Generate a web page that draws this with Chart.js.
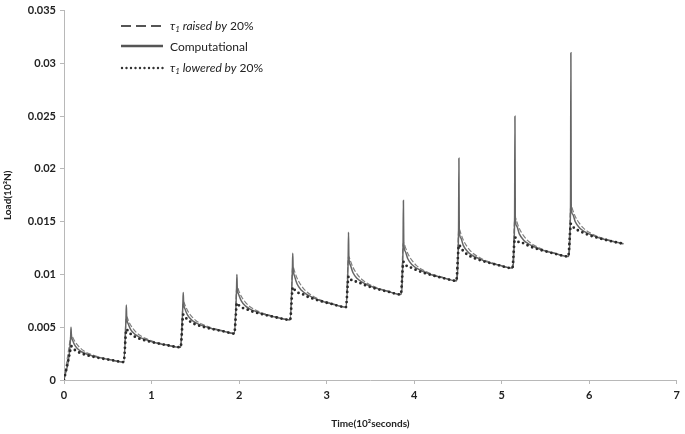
<!DOCTYPE html>
<html>
<head>
<meta charset="utf-8">
<script src="https://cdn.jsdelivr.net/npm/chart.js@4.4.1/dist/chart.umd.min.js"></script>
<style>
    html, body { margin: 0; padding: 0; background: #fff; }
    #wrap { position: relative; width: 685px; height: 434px; }
    #legend {
        position: absolute; left: 120px; top: 16px;
        font-family: Lato, "Open Sans", sans-serif; font-size: 12px; color: #222;
    }
    .row { display: flex; align-items: center; height: 20px; }
    .row svg { width: 44px; height: 8px; margin-right: 6px; }
    sub { font-size: 8px; vertical-align: -2px; }
</style>
</head>
<body>
<div id="wrap">
    <canvas id="loadChart" width="685" height="434"></canvas>
    <div id="legend">
        <div class="row"><svg><line x1="1" y1="4" x2="43" y2="4" stroke="#555" stroke-width="2" stroke-dasharray="10,5"/></svg><span><i>τ<sub>1</sub> raised by</i> 20%</span></div>
        <div class="row"><svg><line x1="1" y1="4" x2="43" y2="4" stroke="#555" stroke-width="2.5"/></svg><span>Computational</span></div>
        <div class="row" style="margin-top:2px"><svg><line x1="2" y1="4" x2="43" y2="4" stroke="#333" stroke-width="2.4" stroke-linecap="round" stroke-dasharray="0,4.5"/></svg><span><i>τ<sub>1</sub> lowered by</i> 20%</span></div>
    </div>
</div>
<script>
/* ==========================================================
   Load vs time, ten loading cycles
   Computational curve and tau1 raised / lowered by 20%
========================================================== */

const timeValues = [
    0, 0.076, 0.08, 0.084, 0.10, 0.13, 0.18, 0.23, 0.30, 0.40, 0.53,
    0.682, 0.708, 0.712, 0.716, 0.732, 0.762, 0.812, 0.862, 0.932, 1.032, 1.162,
    1.332, 1.358, 1.362, 1.366, 1.382, 1.412, 1.462, 1.512, 1.582, 1.682, 1.812,
    1.945, 1.971, 1.975, 1.979, 1.995, 2.025, 2.075, 2.125, 2.195, 2.295, 2.425,
    2.583, 2.609, 2.613, 2.617, 2.633, 2.663, 2.713, 2.763, 2.833, 2.933, 3.063,
    3.22, 3.246, 3.25, 3.254, 3.27, 3.30, 3.35, 3.40, 3.47, 3.57, 3.70,
    3.847, 3.873, 3.877, 3.881, 3.897, 3.927, 3.977, 4.027, 4.097, 4.197, 4.327,
    4.481, 4.507, 4.511, 4.515, 4.531, 4.561, 4.611, 4.661, 4.731, 4.831, 4.961,
    5.121, 5.147, 5.151, 5.155, 5.171, 5.201, 5.251, 5.301, 5.371, 5.471, 5.601,
    5.76, 5.786, 5.79, 5.794, 5.81, 5.84, 5.89, 5.94, 6.01, 6.11, 6.24,
    6.39
];

const computational = [
    0, 0.0041, 0.0050, 0.0043, 0.00373, 0.00321, 0.00279, 0.00256, 0.00235, 0.00212, 0.00191,
    0.0017, 0.0058, 0.0071, 0.0060, 0.00536, 0.00478, 0.00432, 0.00406, 0.00383, 0.00356, 0.00333,
    0.0031, 0.0072, 0.0083, 0.0074, 0.00674, 0.00614, 0.00566, 0.00539, 0.00515, 0.00488, 0.00464,
    0.0044, 0.0086, 0.0100, 0.0088, 0.00812, 0.0075, 0.0070, 0.00672, 0.00648, 0.0062, 0.00595,
    0.0057, 0.0105, 0.0120, 0.0107, 0.00986, 0.0091, 0.0085, 0.00815, 0.00785, 0.00751, 0.0072,
    0.0069, 0.0115, 0.0140, 0.0117, 0.01091, 0.01019, 0.00961, 0.00929, 0.0090, 0.00868, 0.00839,
    0.0081, 0.0128, 0.0170, 0.0130, 0.01221, 0.01149, 0.01091, 0.01059, 0.0103, 0.00998, 0.00969,
    0.0094, 0.0141, 0.0210, 0.0143, 0.01349, 0.01275, 0.01215, 0.01182, 0.01153, 0.01119, 0.0109,
    0.0106, 0.0152, 0.0250, 0.0154, 0.01459, 0.01385, 0.01325, 0.01292, 0.01263, 0.01229, 0.0120,
    0.0117, 0.0163, 0.0310, 0.0165, 0.01571, 0.01499, 0.01441, 0.01409, 0.0138, 0.01348, 0.01319,
    0.0129
];

const tauRaised = [
    0, 0.0041, 0.0043, 0.0043, 0.00404, 0.00357, 0.00308, 0.00274, 0.00245, 0.00217, 0.00193,
    0.0017, 0.0058, 0.0060, 0.0060, 0.00571, 0.00519, 0.00464, 0.00426, 0.00394, 0.00362, 0.00336,
    0.0031, 0.0072, 0.0074, 0.0074, 0.0071, 0.00656, 0.00599, 0.0056, 0.00527, 0.00494, 0.00467,
    0.0044, 0.0086, 0.0088, 0.0088, 0.00849, 0.00793, 0.00734, 0.00694, 0.0066, 0.00626, 0.00598,
    0.0057, 0.0105, 0.0107, 0.0107, 0.01032, 0.00964, 0.00891, 0.00842, 0.0080, 0.00758, 0.00724,
    0.0069, 0.0115, 0.0117, 0.0117, 0.01134, 0.01069, 0.01001, 0.00954, 0.00914, 0.00875, 0.00842,
    0.0081, 0.0128, 0.0130, 0.0130, 0.01264, 0.01199, 0.01131, 0.01084, 0.01044, 0.01005, 0.00972,
    0.0094, 0.0141, 0.0143, 0.0143, 0.01393, 0.01326, 0.01256, 0.01208, 0.01167, 0.01127, 0.01093,
    0.0106, 0.0152, 0.0154, 0.0154, 0.01503, 0.01436, 0.01366, 0.01318, 0.01277, 0.01237, 0.01203,
    0.0117, 0.0163, 0.0165, 0.0165, 0.01614, 0.01549, 0.01481, 0.01434, 0.01394, 0.01355, 0.01322,
    0.0129
];

const tauLowered = [
    0, 0.0030, 0.0032, 0.0032, 0.00302, 0.00281, 0.00258, 0.00243, 0.00227, 0.00209, 0.0019,
    0.0017, 0.0046, 0.0048, 0.0048, 0.0046, 0.00436, 0.00409, 0.00391, 0.00374, 0.00354, 0.00332,
    0.0031, 0.0060, 0.0062, 0.0062, 0.00598, 0.00573, 0.00542, 0.00524, 0.00506, 0.00485, 0.00463,
    0.0044, 0.0071, 0.0073, 0.0073, 0.00711, 0.00688, 0.00675, 0.00657, 0.00638, 0.00617, 0.00593,
    0.0057, 0.0086, 0.0088, 0.0088, 0.00857, 0.00831, 0.00819, 0.00796, 0.00774, 0.00747, 0.00719,
    0.0069, 0.0096, 0.0098, 0.0098, 0.0096, 0.00936, 0.00932, 0.00911, 0.00889, 0.00864, 0.00837,
    0.0081, 0.0110, 0.0112, 0.0112, 0.01098, 0.01073, 0.01062, 0.01041, 0.01019, 0.00994, 0.00967,
    0.0094, 0.0126, 0.0128, 0.0128, 0.01254, 0.01223, 0.01186, 0.01164, 0.01141, 0.01116, 0.01088,
    0.0106, 0.0133, 0.0135, 0.0135, 0.01328, 0.01303, 0.01296, 0.01274, 0.01251, 0.01226, 0.01198,
    0.0117, 0.0146, 0.0148, 0.0148, 0.01457, 0.01431, 0.01412, 0.01391, 0.01369, 0.01344, 0.01317,
    0.0129
];

const xTicks = [0, 1, 2, 3, 4, 5, 6, 7];
const yTicks = [0, 0.005, 0.01, 0.015, 0.02, 0.025, 0.03, 0.035];

const AXIS = "#b8b8b8";
const FONT = "Lato, 'Open Sans', sans-serif";

function points(values) {
    return timeValues.map((t, i) => ({ x: t, y: values[i] }));
}

const common = {
    pointRadius: 0,
    cubicInterpolationMode: "monotone",
    fill: false
};

new Chart(document.getElementById("loadChart").getContext("2d"), {
    type: "line",
    data: {
        datasets: [
            Object.assign({
                label: "τ1 lowered by 20%",
                data: points(tauLowered),
                borderColor: "#2a2a2a",
                borderWidth: 2.8,
                borderDash: [0, 5],
                borderCapStyle: "round",
                order: 0
            }, common),
            Object.assign({
                label: "Computational",
                data: points(computational),
                borderColor: "#666666",
                borderWidth: 1.5,
                order: 1
            }, common),
            Object.assign({
                label: "τ1 raised by 20%",
                data: points(tauRaised),
                borderColor: "#808080",
                borderWidth: 1.2,
                borderDash: [5, 2],
                order: 2
            }, common)
        ]
    },
    options: {
        responsive: false,
        animation: false,
        layout: { padding: { top: 10, right: 5, left: 0, bottom: 0 } },
        plugins: {
            legend: { display: false },
            tooltip: { enabled: false }
        },
        scales: {
            x: {
                type: "linear",
                min: 0,
                max: 7,
                afterBuildTicks: (s) => { s.ticks = xTicks.map(v => ({ value: v })); },
                afterFit: (s) => { s.height = 54; },
                grid: { drawOnChartArea: false, drawTicks: true, tickLength: 4, color: AXIS },
                border: { color: AXIS, width: 1 },
                ticks: {
                    padding: 5,
                    color: "#222",
                    font: { family: FONT, size: 11, weight: "bold" },
                    maxRotation: 0
                },
                title: {
                    display: true,
                    text: "Time(10²seconds)",
                    color: "#222",
                    font: { family: FONT, size: 10, weight: "bold" },
                    padding: { top: 0, bottom: 4 }
                }
            },
            y: {
                min: 0,
                max: 0.035,
                afterBuildTicks: (s) => { s.ticks = yTicks.map(v => ({ value: v })); },
                afterFit: (s) => { s.width = 64; },
                grid: { drawOnChartArea: false, drawTicks: true, tickLength: 4, color: AXIS },
                border: { color: AXIS, width: 1 },
                ticks: {
                    padding: 4,
                    color: "#222",
                    font: { family: FONT, size: 11, weight: "bold" },
                    callback: (v) => String(+v.toFixed(3))
                },
                title: {
                    display: true,
                    text: "Load(10²N)",
                    color: "#222",
                    font: { family: FONT, size: 10, weight: "bold" },
                    padding: { top: 2, bottom: 0 }
                }
            }
        }
    }
});
</script>
</body>
</html>
